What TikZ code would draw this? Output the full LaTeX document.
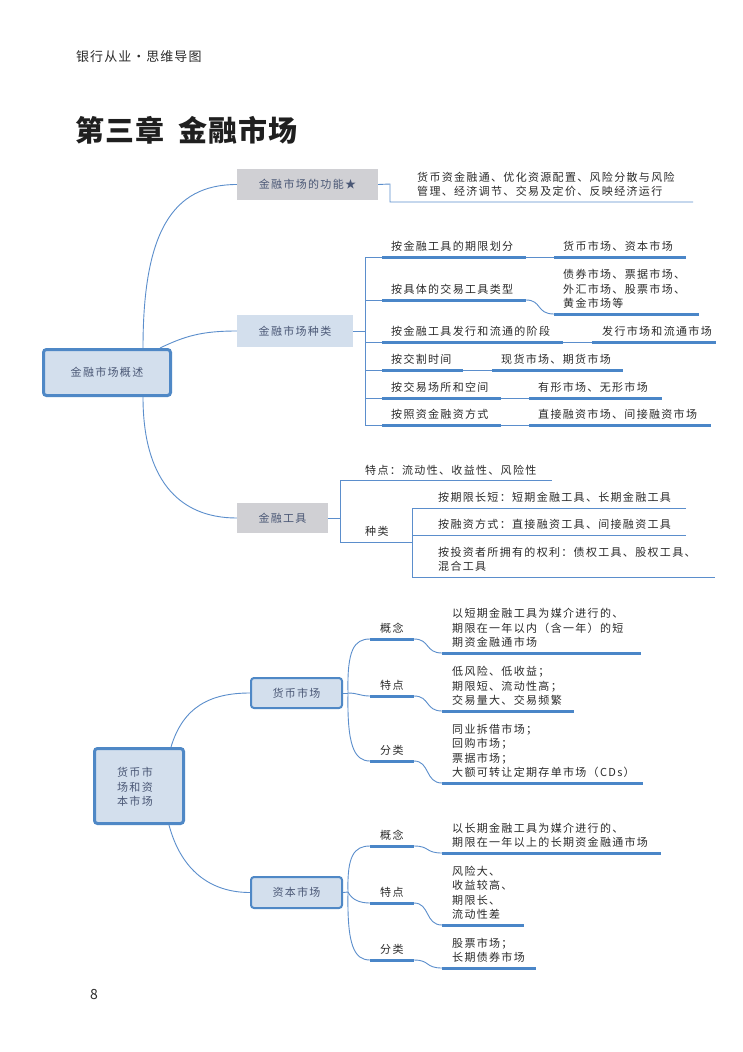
\documentclass[tikz,border=0pt]{standalone}
\usepackage{fontspec}
\newfontfamily\cjk[LetterSpace=12]{Noto Sans CJK SC}
\newfontfamily\cjktitle[LetterSpace=4]{Noto Sans CJK SC}
\newfontfamily\cjkhead[LetterSpace=8]{Noto Sans CJK SC}
\definecolor{lnblue}{HTML}{5B8ECC}
\definecolor{ulblue}{HTML}{4A86C8}
\definecolor{rootblue}{HTML}{4F88C6}
\definecolor{bluebg}{HTML}{D3DFED}
\definecolor{graybg}{HTML}{D0D0D4}
\definecolor{boxtxt}{HTML}{4A5775}
\definecolor{txtcol}{HTML}{2B2B2B}
\tikzset{
  conn/.style={draw=lnblue, line width=0.9pt},
  uline/.style={draw=ulblue, line width=3pt},
  txt/.style={anchor=south west, inner sep=0pt, font=\cjk\fontsize{11}{14.5}\selectfont, text=txtcol, align=left},
  box/.style={inner sep=0pt, font=\cjk\fontsize{11}{14.5}\selectfont, text=boxtxt, align=center},
  graybox/.style={box, fill=graybg},
  bluebox/.style={box, fill=bluebg},
  rootbox/.style={box, fill=bluebg, draw=rootblue, line width=3pt, rounded corners=3pt},
  midbox/.style={box, fill=bluebg, draw=rootblue, line width=2pt, rounded corners=3pt},
}
\begin{document}
\begin{tikzpicture}[x=1pt,y=-1pt]
\useasboundingbox (0,0) rectangle (743,1052);
\fill[white] (0,0) rectangle (743,1052);

% header and title
\node[anchor=south west, inner sep=0pt, text=txtcol, font=\cjkhead\fontsize{13}{15}\selectfont] (head) at (76,63) {银行从业·思维导图};
\node[anchor=south west, inner sep=0pt, text=black!88, font=\cjktitle\bfseries\fontsize{29}{31}\selectfont] (title) at (75,144) {第三章\hspace{14pt}金融市场};

% ===== section 1 boxes
\node[rootbox, minimum width=127pt, minimum height=46pt] (r1) at (107,372.5) {金融市场概述};
\node[graybox, minimum width=141pt, minimum height=31pt] (fn) at (307.5,184.5) {金融市场的功能★};
\node[bluebox, minimum width=116pt, minimum height=32pt] (kind) at (295,331) {金融市场种类};
\node[graybox, minimum width=91pt, minimum height=30pt] (tool) at (282.5,518) {金融工具};

\draw[conn] ([xshift=36pt]r1.north) .. controls +(0,-115) and +(-65,0) .. (fn.west);
\draw[conn] ([xshift=53pt]r1.north) .. controls +(25,-12) and +(-35,0) .. (kind.west);
\draw[conn] ([xshift=36pt]r1.south) .. controls +(0,80) and +(-60,0) .. (tool.west);

% function
\coordinate (fa) at (390,184);
\coordinate (fb) at (693,202);
\draw[conn] (fn.east) -- (fa) |- (fb);
\node[txt] (fntxt) at (417,197) {货币资金融通、优化资源配置、风险分散与风险\\管理、经济调节、交易及定价、反映经济运行};

% kinds
\coordinate (ks) at (365,331);
\draw[conn] (kind.east) -- (ks);
\draw[conn] (365,257) -- (365,425);
\foreach \y in {257,300,342,370,398,425} { \draw[conn] (365,\y) -- (382,\y); }
% row 1
\draw[uline] (382,257) -- (526,257);
\draw[conn] (526,257) -- (554,257);
\draw[uline] (554,257) -- (686,257);
\node[txt] (k1) at (391,252) {按金融工具的期限划分};
\node[txt] (k1b) at (563,252) {货币市场、资本市场};
% row 2
\draw[uline] (382,300) -- (526,300);
\draw[conn] (526,300) .. controls (542,300) and (536,314) .. (554,314);
\draw[uline] (554,314) -- (699,314);
\node[txt] (k2) at (391,295) {按具体的交易工具类型};
\node[txt] (k2b) at (563,309) {债券市场、票据市场、\\外汇市场、股票市场、\\黄金市场等};
% row 3
\draw[uline] (382,342) -- (563,342);
\draw[conn] (563,342) -- (592,342);
\draw[uline] (592,342) -- (716,342);
\node[txt] (k3) at (391,337) {按金融工具发行和流通的阶段};
\node[txt] (k3b) at (602,337) {发行市场和流通市场};
% row 4
\draw[uline] (382,370) -- (463,370);
\draw[conn] (463,370) -- (492,370);
\draw[uline] (492,370) -- (623,370);
\node[txt] (k4) at (391,365) {按交割时间};
\node[txt] (k4b) at (501,365) {现货市场、期货市场};
% row 5
\draw[uline] (382,398) -- (501,398);
\draw[conn] (501,398) -- (529,398);
\draw[uline] (529,398) -- (662,398);
\node[txt] (k5) at (391,393) {按交易场所和空间};
\node[txt] (k5b) at (538,393) {有形市场、无形市场};
% row 6
\draw[uline] (382,425) -- (501,425);
\draw[conn] (501,425) -- (529,425);
\draw[uline] (529,425) -- (711,425);
\node[txt] (k6) at (391,420) {按照资金融资方式};
\node[txt] (k6b) at (538,420) {直接融资市场、间接融资市场};

% tools
\draw[conn] (tool.east) -- (340,518);
\draw[conn] (340,480) -- (340,542);
\draw[conn] (340,480) -- (552,480);
\draw[conn] (340,542) -- (412,542);
\draw[conn] (412,508) -- (412,577);
\draw[conn] (412,508) -- (686,508);
\draw[conn] (412,535) -- (686,535);
\draw[conn] (412,577) -- (715,577);
\node[txt] (t1) at (365,476) {特点：流动性、收益性、风险性};
\node[txt] (t2) at (365,537) {种类};
\node[txt] (t3) at (438,503) {按期限长短：短期金融工具、长期金融工具};
\node[txt] (t4) at (438,530) {按融资方式：直接融资工具、间接融资工具};
\node[txt] (t5) at (438,572) {按投资者所拥有的权利：债权工具、股权工具、\\混合工具};

% ===== section 2
\node[rootbox, minimum width=89pt, minimum height=75pt] (r2) at (139,786) {};
\node[box, anchor=center] (r2t) at (135,787) {货币市\\场和资\\本市场};
\node[midbox, minimum width=91pt, minimum height=30pt] (mm) at (296.5,693) {货币市场};
\node[midbox, minimum width=91pt, minimum height=31pt] (cm) at (296.5,892.5) {资本市场};
\draw[conn] ([xshift=32pt]r2.north) .. controls +(12,-40) and +(-40,0) .. (mm.west);
\draw[conn] ([xshift=30pt]r2.south) .. controls +(12,45) and +(-40,0) .. (cm.west);

% money market
\coordinate (ms) at (348,693);
\draw[conn] (mm.east) -- (ms);
\draw[conn] (ms) .. controls (347,650) and (354,639) .. (370,639);
\draw[conn] (ms) .. controls (358,693) and (360,696) .. (370,696);
\draw[conn] (ms) .. controls (347,745) and (354,761) .. (370,761);
\draw[uline] (370,639) -- (414,639);
\draw[conn] (414,639) .. controls (430,639) and (425,653) .. (442,653);
\draw[uline] (442,653) -- (641,653);
\draw[uline] (370,696) -- (414,696);
\draw[conn] (414,696) .. controls (430,696) and (425,711) .. (442,711);
\draw[uline] (442,711) -- (574,711);
\draw[uline] (370,761) -- (414,761);
\draw[conn] (414,761) .. controls (430,761) and (425,783) .. (442,783);
\draw[uline] (442,783) -- (643,783);
\node[txt] (m1) at (380,634) {概念};
\node[txt] (m2) at (380,691) {特点};
\node[txt] (m3) at (380,756) {分类};
\node[txt] (m1b) at (452,648) {以短期金融工具为媒介进行的、\\期限在一年以内（含一年）的短\\期资金融通市场};
\node[txt] (m2b) at (452,706) {低风险、低收益；\\期限短、流动性高；\\交易量大、交易频繁};
\node[txt] (m3b) at (452,778) {同业拆借市场；\\回购市场；\\票据市场；\\大额可转让定期存单市场（CDs）};

% capital market
\coordinate (cs) at (348,892);
\draw[conn] (cm.east) -- (cs);
\draw[conn] (cs) .. controls (347,856) and (354,846) .. (370,846);
\draw[conn] (cs) .. controls (352,900) and (360,903) .. (370,903);
\draw[conn] (cs) .. controls (347,945) and (354,960) .. (370,960);
\draw[uline] (370,846) -- (414,846);
\draw[conn] (414,846) .. controls (430,846) and (425,853) .. (442,853);
\draw[uline] (442,853) -- (661,853);
\draw[uline] (370,903) -- (414,903);
\draw[conn] (414,903) .. controls (430,903) and (425,925) .. (442,925);
\draw[uline] (442,925) -- (524,925);
\draw[uline] (370,960) -- (414,960);
\draw[conn] (414,960) .. controls (430,960) and (425,968) .. (442,968);
\draw[uline] (442,968) -- (536,968);
\node[txt] (c1) at (380,841) {概念};
\node[txt] (c2) at (380,898) {特点};
\node[txt] (c3) at (380,955) {分类};
\node[txt] (c1b) at (452,848) {以长期金融工具为媒介进行的、\\期限在一年以上的长期资金融通市场};
\node[txt] (c2b) at (452,920) {风险大、\\收益较高、\\期限长、\\流动性差};
\node[txt] (c3b) at (452,963) {股票市场；\\长期债券市场};

% page number
\node[anchor=south west, inner sep=0pt, text=txtcol, font=\cjk\fontsize{14}{16}\selectfont] (page) at (90,1000) {8};
\end{tikzpicture}
\end{document}
